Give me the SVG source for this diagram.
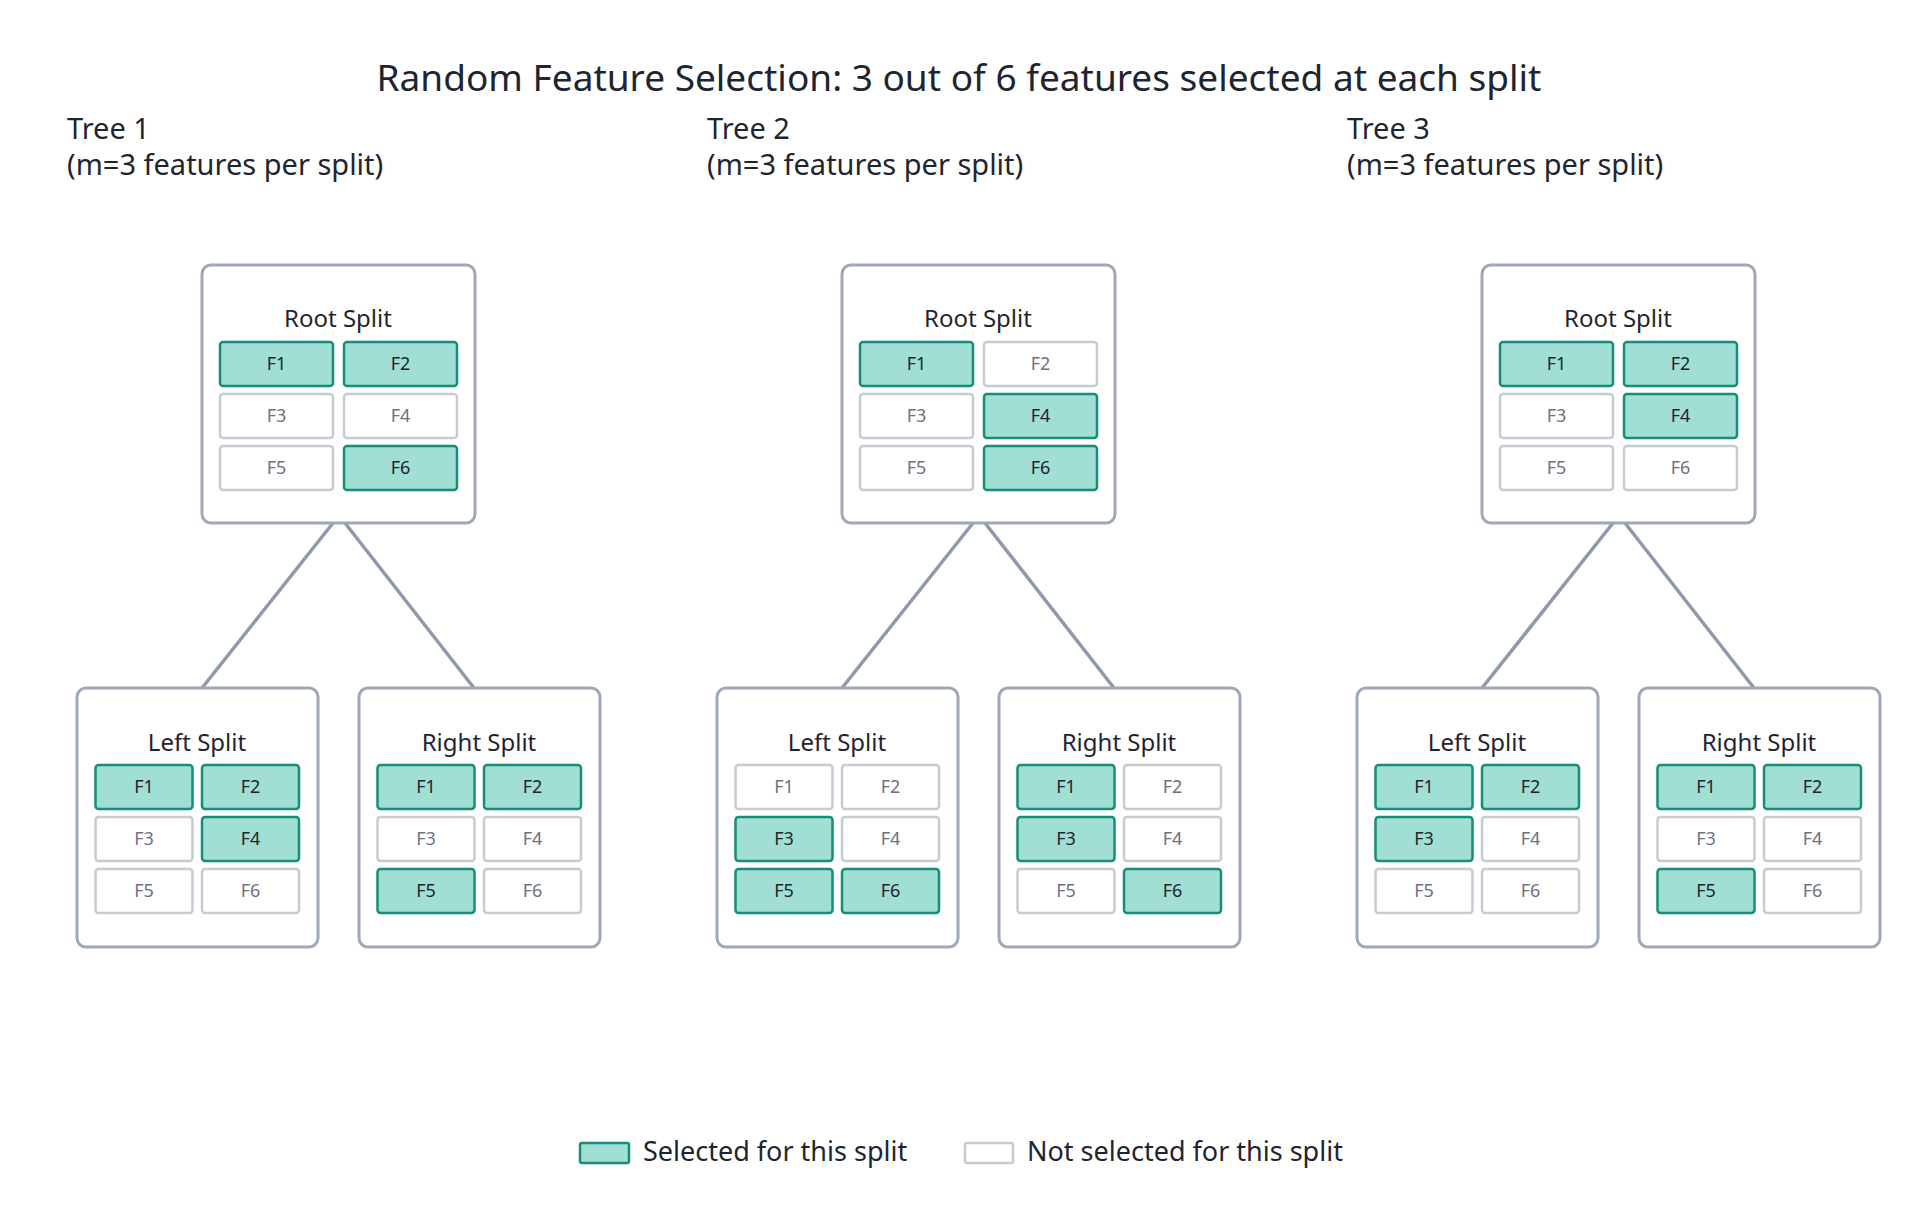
<svg xmlns="http://www.w3.org/2000/svg" width="1920" height="1227" viewBox="0 0 1920 1227">
<style>
text{font-family:"Noto Sans","Open Sans",sans-serif;fill:#1f2530}
.title{font-size:37px;text-anchor:middle}
.tl{font-size:29px}
.bt{font-size:24px;text-anchor:middle}
.box{fill:#fff;stroke:#9ea8b6;stroke-width:3}
.s{fill:#a1ded3;stroke:#168e7c;stroke-width:2.5}
.n{fill:#fff;stroke:#c7ccd4;stroke-width:2.5}
.ct{font-size:18px;text-anchor:middle;fill:#1f2530}
.cn{font-size:18px;text-anchor:middle;fill:#6b7280}
.lg{font-size:27px}
.con{stroke:#8e9aab;stroke-width:3.5;fill:none}
</style>
<rect width="1920" height="1227" fill="#fff"/>
<text class="title" x="959" y="91">Random Feature Selection: 3 out of 6 features selected at each split</text>
<g id="connectors">
<path class="con" d="M333 523L202 688M345 523L474 688"/>
<path class="con" d="M973 523L842 688M985 523L1114 688"/>
<path class="con" d="M1613 523L1482 688M1625 523L1754 688"/>
</g>
<g id="tree1">
<text class="tl" x="67" y="139">Tree 1</text><text class="tl" x="67" y="175">(m=3 features per split)</text>
<g id="t1-root" transform="translate(202,265)"><rect class="box" width="273" height="258" rx="9"/><text class="bt" x="136" y="62">Root Split</text>
<rect class="s" x="18" y="77" width="113" height="44" rx="3"/><text class="ct" x="74.5" y="105">F1</text>
<rect class="s" x="142" y="77" width="113" height="44" rx="3"/><text class="ct" x="198.5" y="105">F2</text>
<rect class="n" x="18" y="129" width="113" height="44" rx="3"/><text class="cn" x="74.5" y="157">F3</text>
<rect class="n" x="142" y="129" width="113" height="44" rx="3"/><text class="cn" x="198.5" y="157">F4</text>
<rect class="n" x="18" y="181" width="113" height="44" rx="3"/><text class="cn" x="74.5" y="209">F5</text>
<rect class="s" x="142" y="181" width="113" height="44" rx="3"/><text class="ct" x="198.5" y="209">F6</text></g>
<g id="t1-left" transform="translate(77,688)"><rect class="box" width="241" height="259" rx="9"/><text class="bt" x="120" y="63">Left Split</text>
<rect class="s" x="18.5" y="77" width="97" height="44" rx="3"/><text class="ct" x="67" y="105">F1</text>
<rect class="s" x="125" y="77" width="97" height="44" rx="3"/><text class="ct" x="173.5" y="105">F2</text>
<rect class="n" x="18.5" y="129" width="97" height="44" rx="3"/><text class="cn" x="67" y="157">F3</text>
<rect class="s" x="125" y="129" width="97" height="44" rx="3"/><text class="ct" x="173.5" y="157">F4</text>
<rect class="n" x="18.5" y="181" width="97" height="44" rx="3"/><text class="cn" x="67" y="209">F5</text>
<rect class="n" x="125" y="181" width="97" height="44" rx="3"/><text class="cn" x="173.5" y="209">F6</text></g>
<g id="t1-right" transform="translate(359,688)"><rect class="box" width="241" height="259" rx="9"/><text class="bt" x="120" y="63">Right Split</text>
<rect class="s" x="18.5" y="77" width="97" height="44" rx="3"/><text class="ct" x="67" y="105">F1</text>
<rect class="s" x="125" y="77" width="97" height="44" rx="3"/><text class="ct" x="173.5" y="105">F2</text>
<rect class="n" x="18.5" y="129" width="97" height="44" rx="3"/><text class="cn" x="67" y="157">F3</text>
<rect class="n" x="125" y="129" width="97" height="44" rx="3"/><text class="cn" x="173.5" y="157">F4</text>
<rect class="s" x="18.5" y="181" width="97" height="44" rx="3"/><text class="ct" x="67" y="209">F5</text>
<rect class="n" x="125" y="181" width="97" height="44" rx="3"/><text class="cn" x="173.5" y="209">F6</text></g>
</g>
<g id="tree2" transform="translate(640,0)">
<text class="tl" x="67" y="139">Tree 2</text><text class="tl" x="67" y="175">(m=3 features per split)</text>
<g id="t2-root" transform="translate(202,265)"><rect class="box" width="273" height="258" rx="9"/><text class="bt" x="136" y="62">Root Split</text>
<rect class="s" x="18" y="77" width="113" height="44" rx="3"/><text class="ct" x="74.5" y="105">F1</text>
<rect class="n" x="142" y="77" width="113" height="44" rx="3"/><text class="cn" x="198.5" y="105">F2</text>
<rect class="n" x="18" y="129" width="113" height="44" rx="3"/><text class="cn" x="74.5" y="157">F3</text>
<rect class="s" x="142" y="129" width="113" height="44" rx="3"/><text class="ct" x="198.5" y="157">F4</text>
<rect class="n" x="18" y="181" width="113" height="44" rx="3"/><text class="cn" x="74.5" y="209">F5</text>
<rect class="s" x="142" y="181" width="113" height="44" rx="3"/><text class="ct" x="198.5" y="209">F6</text></g>
<g id="t2-left" transform="translate(77,688)"><rect class="box" width="241" height="259" rx="9"/><text class="bt" x="120" y="63">Left Split</text>
<rect class="n" x="18.5" y="77" width="97" height="44" rx="3"/><text class="cn" x="67" y="105">F1</text>
<rect class="n" x="125" y="77" width="97" height="44" rx="3"/><text class="cn" x="173.5" y="105">F2</text>
<rect class="s" x="18.5" y="129" width="97" height="44" rx="3"/><text class="ct" x="67" y="157">F3</text>
<rect class="n" x="125" y="129" width="97" height="44" rx="3"/><text class="cn" x="173.5" y="157">F4</text>
<rect class="s" x="18.5" y="181" width="97" height="44" rx="3"/><text class="ct" x="67" y="209">F5</text>
<rect class="s" x="125" y="181" width="97" height="44" rx="3"/><text class="ct" x="173.5" y="209">F6</text></g>
<g id="t2-right" transform="translate(359,688)"><rect class="box" width="241" height="259" rx="9"/><text class="bt" x="120" y="63">Right Split</text>
<rect class="s" x="18.5" y="77" width="97" height="44" rx="3"/><text class="ct" x="67" y="105">F1</text>
<rect class="n" x="125" y="77" width="97" height="44" rx="3"/><text class="cn" x="173.5" y="105">F2</text>
<rect class="s" x="18.5" y="129" width="97" height="44" rx="3"/><text class="ct" x="67" y="157">F3</text>
<rect class="n" x="125" y="129" width="97" height="44" rx="3"/><text class="cn" x="173.5" y="157">F4</text>
<rect class="n" x="18.5" y="181" width="97" height="44" rx="3"/><text class="cn" x="67" y="209">F5</text>
<rect class="s" x="125" y="181" width="97" height="44" rx="3"/><text class="ct" x="173.5" y="209">F6</text></g>
</g>
<g id="tree3" transform="translate(1280,0)">
<text class="tl" x="67" y="139">Tree 3</text><text class="tl" x="67" y="175">(m=3 features per split)</text>
<g id="t3-root" transform="translate(202,265)"><rect class="box" width="273" height="258" rx="9"/><text class="bt" x="136" y="62">Root Split</text>
<rect class="s" x="18" y="77" width="113" height="44" rx="3"/><text class="ct" x="74.5" y="105">F1</text>
<rect class="s" x="142" y="77" width="113" height="44" rx="3"/><text class="ct" x="198.5" y="105">F2</text>
<rect class="n" x="18" y="129" width="113" height="44" rx="3"/><text class="cn" x="74.5" y="157">F3</text>
<rect class="s" x="142" y="129" width="113" height="44" rx="3"/><text class="ct" x="198.5" y="157">F4</text>
<rect class="n" x="18" y="181" width="113" height="44" rx="3"/><text class="cn" x="74.5" y="209">F5</text>
<rect class="n" x="142" y="181" width="113" height="44" rx="3"/><text class="cn" x="198.5" y="209">F6</text></g>
<g id="t3-left" transform="translate(77,688)"><rect class="box" width="241" height="259" rx="9"/><text class="bt" x="120" y="63">Left Split</text>
<rect class="s" x="18.5" y="77" width="97" height="44" rx="3"/><text class="ct" x="67" y="105">F1</text>
<rect class="s" x="125" y="77" width="97" height="44" rx="3"/><text class="ct" x="173.5" y="105">F2</text>
<rect class="s" x="18.5" y="129" width="97" height="44" rx="3"/><text class="ct" x="67" y="157">F3</text>
<rect class="n" x="125" y="129" width="97" height="44" rx="3"/><text class="cn" x="173.5" y="157">F4</text>
<rect class="n" x="18.5" y="181" width="97" height="44" rx="3"/><text class="cn" x="67" y="209">F5</text>
<rect class="n" x="125" y="181" width="97" height="44" rx="3"/><text class="cn" x="173.5" y="209">F6</text></g>
<g id="t3-right" transform="translate(359,688)"><rect class="box" width="241" height="259" rx="9"/><text class="bt" x="120" y="63">Right Split</text>
<rect class="s" x="18.5" y="77" width="97" height="44" rx="3"/><text class="ct" x="67" y="105">F1</text>
<rect class="s" x="125" y="77" width="97" height="44" rx="3"/><text class="ct" x="173.5" y="105">F2</text>
<rect class="n" x="18.5" y="129" width="97" height="44" rx="3"/><text class="cn" x="67" y="157">F3</text>
<rect class="n" x="125" y="129" width="97" height="44" rx="3"/><text class="cn" x="173.5" y="157">F4</text>
<rect class="s" x="18.5" y="181" width="97" height="44" rx="3"/><text class="ct" x="67" y="209">F5</text>
<rect class="n" x="125" y="181" width="97" height="44" rx="3"/><text class="cn" x="173.5" y="209">F6</text></g>
</g>
<g id="legend">
<rect class="s" x="580" y="1143" width="49" height="20" rx="2"/><text class="lg" x="643" y="1161">Selected for this split</text>
<rect class="n" x="965" y="1143" width="48" height="20" rx="2"/><text class="lg" x="1027" y="1161">Not selected for this split</text>
</g>
</svg>
